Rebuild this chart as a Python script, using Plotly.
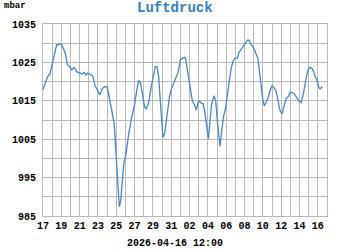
import pandas as pd
import plotly.graph_objects as go

start = "2026-03-17 00:00"
# time offsets in days since start
day_offsets = [0, 0.22, 0.47, 0.76, 1.06, 1.31, 1.49, 1.67, 1.86, 2.04, 2.22, 2.44, 2.66, 2.87,
               3.13, 3.42, 3.68, 3.97, 4.26, 4.51, 4.69, 4.88, 5.13, 5.42, 5.68, 5.93, 6.22,
               6.48, 6.77, 7.02, 7.24, 7.50, 7.75,
               7.82, 8.01, 8.19, 8.33, 8.48, 8.62, 8.81, 9.06, 9.35, 9.72, 10.01, 10.26, 10.44,
               10.63, 10.88, 11.10, 11.28, 11.54, 11.83, 12.08, 12.26, 12.45, 12.63, 12.88,
               13.10, 13.28, 13.54, 13.79, 14.01, 14.26, 14.52, 14.74, 14.99, 15.25, 15.47,
               15.57, 15.76, 15.94, 16.12, 16.30, 16.48, 16.74, 16.92, 17.10, 17.29, 17.50,
               17.69, 17.87, 18.05, 18.23, 18.41, 18.67, 18.85, 19.03, 19.21, 19.32, 19.51,
               19.69, 19.94, 20.12, 20.34, 20.56, 20.78, 20.96, 21.22, 21.40, 21.65, 21.87,
               22.05, 22.31, 22.49, 22.67, 22.93, 23.14,
               23.25, 23.44, 23.62, 23.80, 23.98, 24.16, 24.35, 24.53, 24.78, 25.00, 25.18,
               25.44, 25.62, 25.87, 26.09, 26.35, 26.53, 26.78, 26.97, 27.18, 27.44, 27.69,
               27.91, 28.17, 28.42, 28.71, 28.89, 29.08, 29.33, 29.51, 29.70, 29.91, 30.10,
               30.24, 30.42, 30.50]
pressure = [1017.9, 1019.4, 1021.1, 1022.0, 1025.0, 1028.0, 1029.6, 1029.5, 1029.8, 1029.6,
            1028.5, 1027.4, 1024.4, 1024.0, 1023.1, 1023.7, 1022.6, 1022.2, 1022.0, 1022.4,
            1021.7, 1022.2, 1021.8, 1021.5, 1018.9, 1017.8, 1016.5, 1018.2, 1018.7, 1018.5,
            1015.9, 1012.4, 1009.4,
            1007.2, 1000.3, 992.5, 987.4, 989.0, 994.2, 998.5, 1001.1, 1006.4, 1011.1, 1014.2,
            1018.1, 1020.2, 1019.8, 1016.8, 1013.3, 1012.9, 1014.6, 1018.9, 1022.4, 1023.9,
            1023.9, 1021.1, 1012.4, 1005.5, 1006.4, 1011.6, 1015.9, 1018.1, 1019.4, 1021.1,
            1022.4, 1025.6, 1026.1, 1026.3,
            1025.9, 1022.8, 1020.7, 1017.6, 1015.0, 1014.2, 1012.6, 1014.6, 1014.9, 1014.3,
            1014.2, 1011.6, 1008.1, 1005.1, 1009.8, 1014.2, 1016.3, 1015.0, 1009.8, 1005.5,
            1003.1, 1007.2, 1010.7, 1013.3, 1016.8, 1020.2, 1023.7, 1025.5, 1026.1, 1026.1,
            1027.6, 1028.5, 1029.4, 1030.2, 1030.8, 1030.8, 1029.8, 1028.9, 1028.1,
            1027.2, 1026.3, 1022.8, 1018.5, 1015.5, 1013.7, 1014.6, 1015.5, 1017.6, 1018.9,
            1018.5, 1017.6, 1015.5, 1012.4, 1011.6, 1013.7, 1015.5, 1016.1, 1017.2, 1017.2,
            1016.8, 1015.9, 1015.0, 1014.5, 1016.8, 1020.7, 1022.8, 1023.7, 1023.5, 1022.8,
            1021.3, 1020.4, 1018.5, 1018.1, 1018.5, 1018.7]

y_ticks = [985, 995, 1005, 1015, 1025, 1035]
title_text = "Luftdruck"
unit_text = "mbar"
stamp_text = "2026-04-16 12:00"

times = pd.Timestamp(start) + pd.to_timedelta(day_offsets, unit="D")

grid = "#b8b8b8"
font = "Liberation Mono"
DAY = 86400000

fig = go.Figure()
fig.add_trace(go.Scatter(x=times, y=pressure, mode="lines",
                         line=dict(color="#4a86c0", width=1.3), hoverinfo="skip"))

fig.update_layout(
    width=350, height=250,
    margin=dict(l=43, r=23, t=24, b=34),
    paper_bgcolor="white", plot_bgcolor="white",
    showlegend=False,
    font=dict(family=font, size=10, color="black"),
    xaxis=dict(
        type="date",
        range=["2026-03-17 00:00", "2026-04-17 00:00"],
        tick0="2026-03-17", dtick=2 * DAY, tickformat="%d",
        showgrid=True, gridcolor=grid, gridwidth=1,
        minor=dict(dtick=DAY, tick0="2026-03-17", showgrid=True, gridcolor=grid, gridwidth=1),
        showline=True, linecolor=grid, linewidth=1, mirror=True,
        ticks="", zeroline=False,
        tickfont=dict(family=font, size=10, color="black", weight="bold"),
        fixedrange=True,
    ),
    yaxis=dict(
        range=[985, 1035],
        tickvals=y_ticks,
        showgrid=True, gridcolor=grid, gridwidth=1,
        minor=dict(dtick=5, tick0=985, showgrid=True, gridcolor=grid, gridwidth=1),
        showline=True, linecolor=grid, linewidth=1, mirror=True,
        ticks="", zeroline=False, ticklabelstandoff=4,
        tickfont=dict(family=font, size=10, color="black", weight="bold"),
        fixedrange=True,
    ),
)

plot_h = 250 - 24 - 34
plot_w = 350 - 43 - 23
def px_to_paper(px, py):
    return (px - 43) / plot_w, (250 - 34 - py) / plot_h

specs = [
    (title_text, 175, 8, dict(family=font, size=14, color="#3a7cc0", weight="bold")),
    (unit_text, 15, 6, dict(family=font, size=9, color="black", weight="bold")),
    (stamp_text, 175, 243, dict(family=font, size=10, color="black", weight="bold")),
]
for text, px, py, f in specs:
    xp, yp = px_to_paper(px, py)
    fig.add_annotation(text=text, x=xp, y=yp, xref="paper", yref="paper", showarrow=False,
                       xanchor="center", yanchor="middle", font=f)

fig.write_html("out.html")
